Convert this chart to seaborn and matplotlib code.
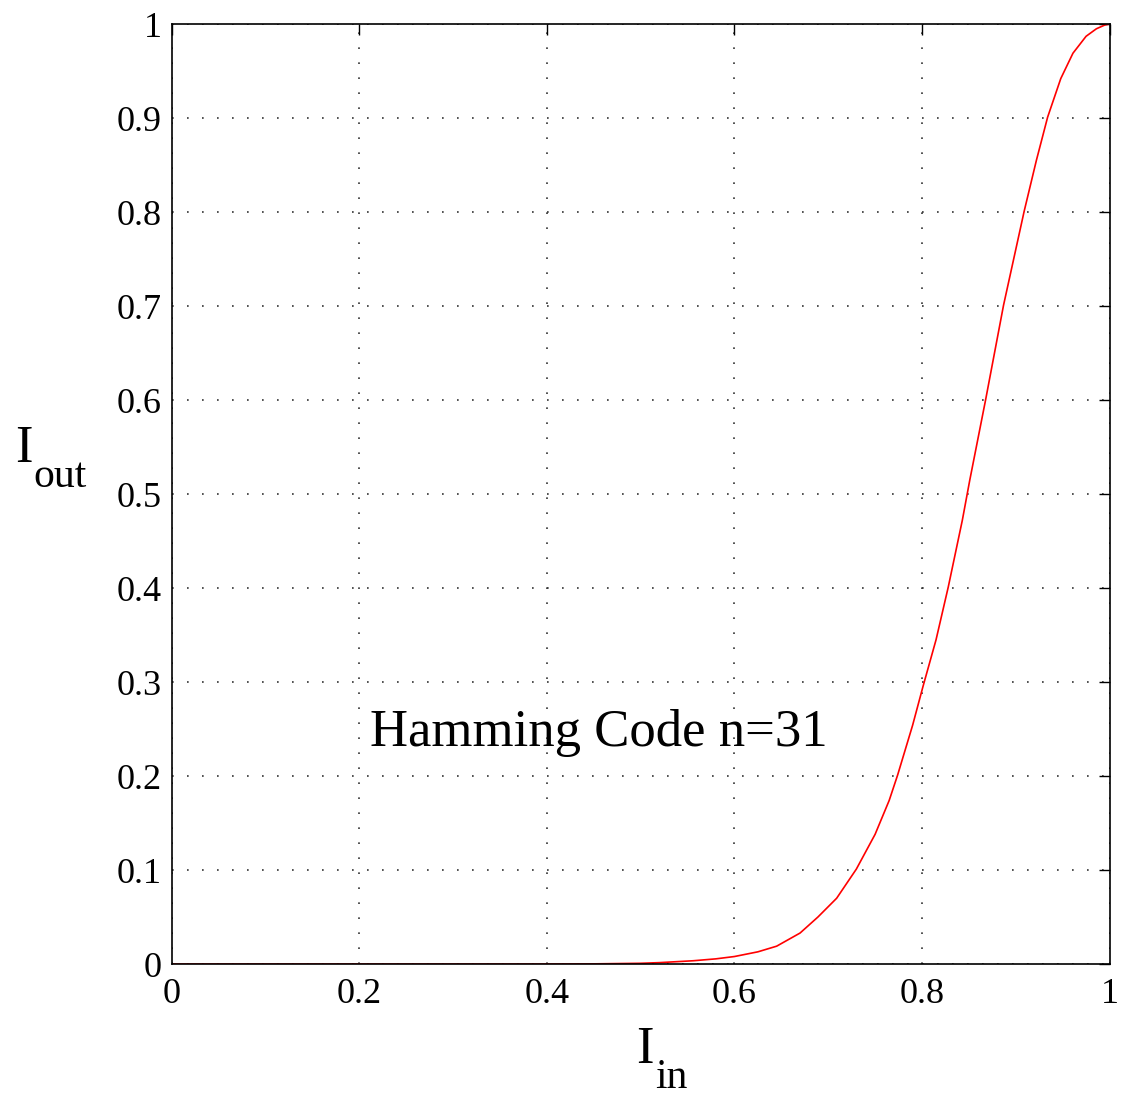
import numpy as np
import pandas as pd
import matplotlib
matplotlib.use("Agg")
import matplotlib.pyplot as plt
import seaborn as sns

# Curve values
i_in = [0.0, 0.1, 0.2, 0.3, 0.4, 0.45, 0.5, 0.52, 0.556, 0.58, 0.6, 0.625, 0.645, 0.67, 0.689, 0.709,
        0.73, 0.75, 0.765, 0.774, 0.79, 0.801, 0.815, 0.828, 0.843, 0.851, 0.868,
        0.887, 0.909, 0.922, 0.934, 0.948, 0.961, 0.975, 0.986, 0.995, 1.0]
i_out = [0.0, 0.0, 0.0, 0.0, 0.0, 0.0002, 0.0008, 0.0015, 0.0035, 0.0055, 0.008, 0.013, 0.019, 0.033, 0.050, 0.070,
         0.101, 0.138, 0.174, 0.201, 0.254, 0.295, 0.345, 0.401, 0.472, 0.515, 0.601,
         0.701, 0.801, 0.855, 0.901, 0.942, 0.969, 0.987, 0.995, 0.999, 1.0]

x_ticks = [0, 0.2, 0.4, 0.6, 0.8, 1]
x_tick_labels = ["0", "0.2", "0.4", "0.6", "0.8", "1"]
y_ticks = [0, 0.1, 0.2, 0.3, 0.4, 0.5, 0.6, 0.7, 0.8, 0.9, 1]
y_tick_labels = ["0", "0.1", "0.2", "0.3", "0.4", "0.5", "0.6", "0.7", "0.8", "0.9", "1"]
annotation = "Hamming Code n=31"

sns.set_style("white")
plt.rcParams["font.family"] = ["Liberation Serif", "DejaVu Serif"]
plt.rcParams["text.color"] = "black"

df = pd.DataFrame({"Iin": i_in, "Iout": i_out})

fig = plt.figure(figsize=(11.23, 10.99), dpi=100)
ax = fig.add_axes([0.153, 0.1228, 0.835, 0.8553])

sns.lineplot(data=df, x="Iin", y="Iout", ax=ax, color="red", linewidth=1.2)

ax.set_xlim(0, 1)
ax.set_ylim(0, 1)
ax.set_xticks(x_ticks)
ax.set_xticklabels(x_tick_labels)
ax.set_yticks(y_ticks)
ax.set_yticklabels(y_tick_labels)
ax.tick_params(axis="both", direction="in", length=8, width=1, labelsize=26,
               top=True, right=True, colors="black", labelcolor="black")
ax.tick_params(axis="y", pad=7)
ax.tick_params(axis="x", pad=10)
ax.grid(True, linestyle=(0, (1, 8)), color="#333333", linewidth=1.2)
for s in ax.spines.values():
    s.set_visible(True)
    s.set_color("black")
    s.set_linewidth(1.2)

ax.set_xlabel("")
ax.set_ylabel("")

ax.text(0.211, 0.232, annotation, fontsize=38, ha="left", va="baseline",
        color="black", transform=ax.transData)

# Axis labels (I with subscript)
fig.text(15 / 1123, 1 - 462 / 1099, "I", fontsize=38, ha="left", va="baseline", color="black")
fig.text(33 / 1123, 1 - 487 / 1099, "out", fontsize=30, ha="left", va="baseline", color="black")
fig.text(636 / 1123, 1 - 1063 / 1099, "I", fontsize=38, ha="left", va="baseline", color="black")
fig.text(655 / 1123, 1 - 1088 / 1099, "in", fontsize=30, ha="left", va="baseline", color="black")

fig.savefig("out.png", dpi=100, facecolor="white")
